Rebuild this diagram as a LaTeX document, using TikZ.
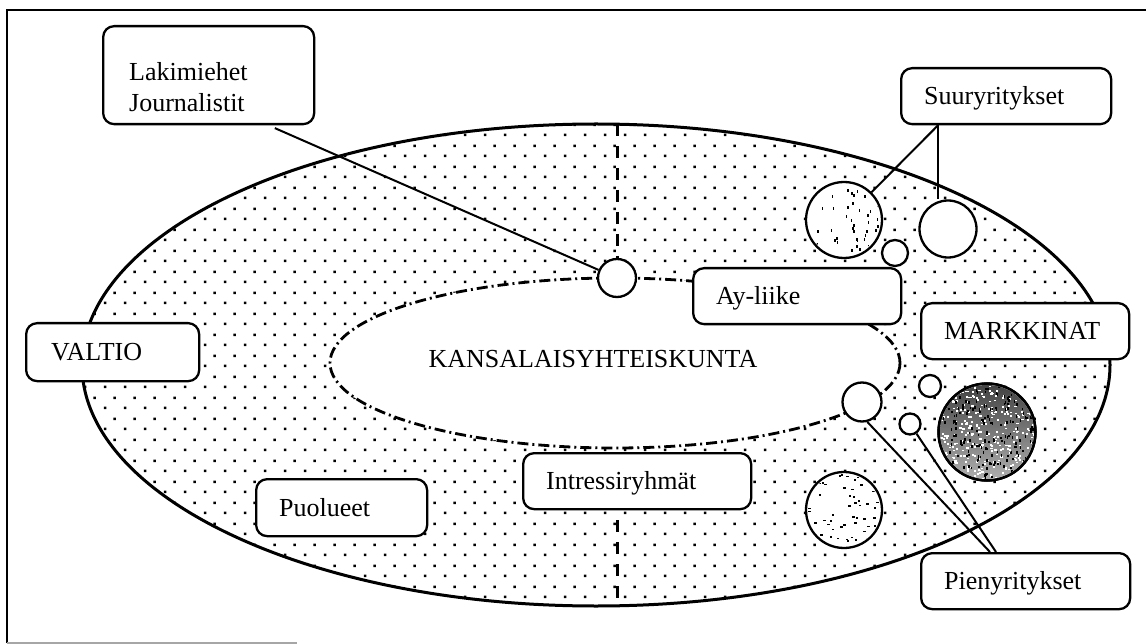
\documentclass[tikz,border=0pt]{standalone}
\usepackage{fontspec}
\setmainfont{Liberation Serif}
\usetikzlibrary{patterns.meta,calc}

% staggered dot screen used for the outer field
\tikzdeclarepattern{
  name=dotscreen,
  type=uncolored,
  bounding box={(0pt,0pt) and (20pt,21pt)},
  tile size={(20pt,21pt)},
  code={
    \fill (4pt,4pt) rectangle (6.7pt,6.7pt);
    \fill (14pt,14.5pt) rectangle (16.7pt,17.2pt);
  }
}

\tikzset{
  labelbox/.style={draw, line width=2.3pt, rounded corners=11pt, fill=white,
    anchor=north west, inner ysep=0pt, align=left,
    font=\fontsize{26}{31}\selectfont, text height=17.5pt, text depth=0pt},
  ring/.style={draw, circle, line width=2.3pt, fill=white, inner sep=0pt},
  link/.style={line width=2pt},
  frameline/.style={line width=2pt},
}

\begin{document}
\begin{tikzpicture}[x=1pt, y=-1pt]
\useasboundingbox (0,0) rectangle (1146,644);

% page frame
\draw[frameline] (7,643) coordinate (fbl) -- (7,10) coordinate (ftl) -- (1146,10) coordinate (ftr);
\draw[black!35, line width=1.5pt] (fbl) -- (297,643) coordinate (fbe);

% outer field
\fill[pattern=dotscreen, pattern color=black] (596,365) ellipse [x radius=514, y radius=241];
\draw[line width=3pt] (596,365) ellipse [x radius=514, y radius=241];

% dividing line
\draw[line width=3pt, dash pattern=on 12pt off 10pt] (617,124) coordinate (dtop) -- (617,606) coordinate (dbot);

% inner field: civil society
\fill[white] (615,363) ellipse [x radius=285, y radius=85];
\draw[line width=2.8pt, dash pattern=on 11pt off 4pt on 2pt off 4pt] (615,363) ellipse [x radius=285, y radius=85];
\node[font=\fontsize{26}{31}\selectfont, anchor=base] (ks) at (593,367) {KANSALAISYHTEISKUNTA};

% circles
\node[ring, minimum size=38pt] (cTop) at (617,278) {};
\node[ring, minimum size=76pt] (cS1) at (844,220) {};
\node[ring, minimum size=57pt] (cS2) at (948,229) {};
\node[ring, minimum size=26pt] (cS3) at (895,253) {};
\node[ring, minimum size=39pt] (cA) at (862,402) {};
\node[ring, minimum size=22pt] (cB) at (930,386) {};
\node[ring, minimum size=21pt] (cC) at (910,424) {};
\node[ring, minimum size=97pt] (cD) at (987,432) {};
\node[ring, minimum size=76pt] (cE) at (844,510) {};

% speckled textures inside the circles
\pgfmathsetseed{11}
\begin{scope}
  \clip (cS1.center) circle (36);
  \foreach \k in {1,...,40}{
    \pgfmathsetmacro\px{844+36*rand}
    \pgfmathsetmacro\py{220+36*rand}
    \fill (\px,\py) rectangle ++(1.6,3);
  }
\end{scope}
\begin{scope}
  \clip (cE.center) circle (36);
  \foreach \k in {1,...,55}{
    \pgfmathsetmacro\px{844+36*rand}
    \pgfmathsetmacro\py{510+36*rand}
    \fill (\px,\py) rectangle ++(2.5,1.6);
  }
\end{scope}
\begin{scope}
  \clip (cD.center) circle (47);
  \shade[top color=black!75, bottom color=black!30] ($(cD.center)+(-50,-50)$) rectangle ($(cD.center)+(50,50)$);
  \foreach \k in {1,...,320}{
    \pgfmathsetmacro\px{987+47*rand}
    \pgfmathsetmacro\py{432+47*rand}
    \fill[white] (\px,\py) rectangle ++(2.2,1.6);
  }
  \foreach \k in {1,...,220}{
    \pgfmathsetmacro\px{987+47*rand}
    \pgfmathsetmacro\py{432+47*rand}
    \fill (\px,\py) rectangle ++(1.6,2.6);
  }
\end{scope}
\draw[line width=2.5pt] (cD.center) circle (48.5);

% labels
\node[labelbox, minimum width=211pt, minimum height=98pt, inner xsep=26pt, text width=159pt,
      text height=17.5pt, text depth=6pt] (lak) at (102,25) {Lakimiehet\\Journalistit};
\node[labelbox, minimum width=210pt, minimum height=56pt, inner xsep=23pt, text width=164pt] (suur) at (900,67) {Suuryritykset};
\node[labelbox, minimum width=208pt, minimum height=56pt, inner xsep=23pt, text width=162pt] (ay) at (692,267) {Ay-liike};
\node[labelbox, minimum width=208pt, minimum height=56pt, inner xsep=23pt, text width=162pt] (mark) at (920,302) {MARKKINAT};
\node[labelbox, minimum width=173pt, minimum height=58pt, inner xsep=25pt, text width=123pt] (valtio) at (25,322) {VALTIO};
\node[labelbox, minimum width=171pt, minimum height=57pt, inner xsep=23pt, text width=125pt] (puol) at (255,478) {Puolueet};
\node[labelbox, minimum width=228pt, minimum height=56pt, inner xsep=23pt, text width=182pt] (intr) at (522,452) {Intressiryhmät};
\node[labelbox, minimum width=209pt, minimum height=56pt, inner xsep=23pt, text width=163pt] (pien) at (920,552) {Pienyritykset};

% connectors
\draw[link, shorten <=7pt] (lak.-40) -- (cTop);
\coordinate (sj) at ([xshift=38pt]suur.south west);
\draw[link] (sj) -- (cS1);
\draw[link] (sj) -- (sj |- cS2.north);
\coordinate (pj1) at ([xshift=70pt]pien.north west);
\coordinate (pj2) at ([xshift=76pt]pien.north west);
\draw[link] (pj1) -- (cA.-75);
\draw[link] (pj2) -- (cC);
\end{tikzpicture}
\end{document}
